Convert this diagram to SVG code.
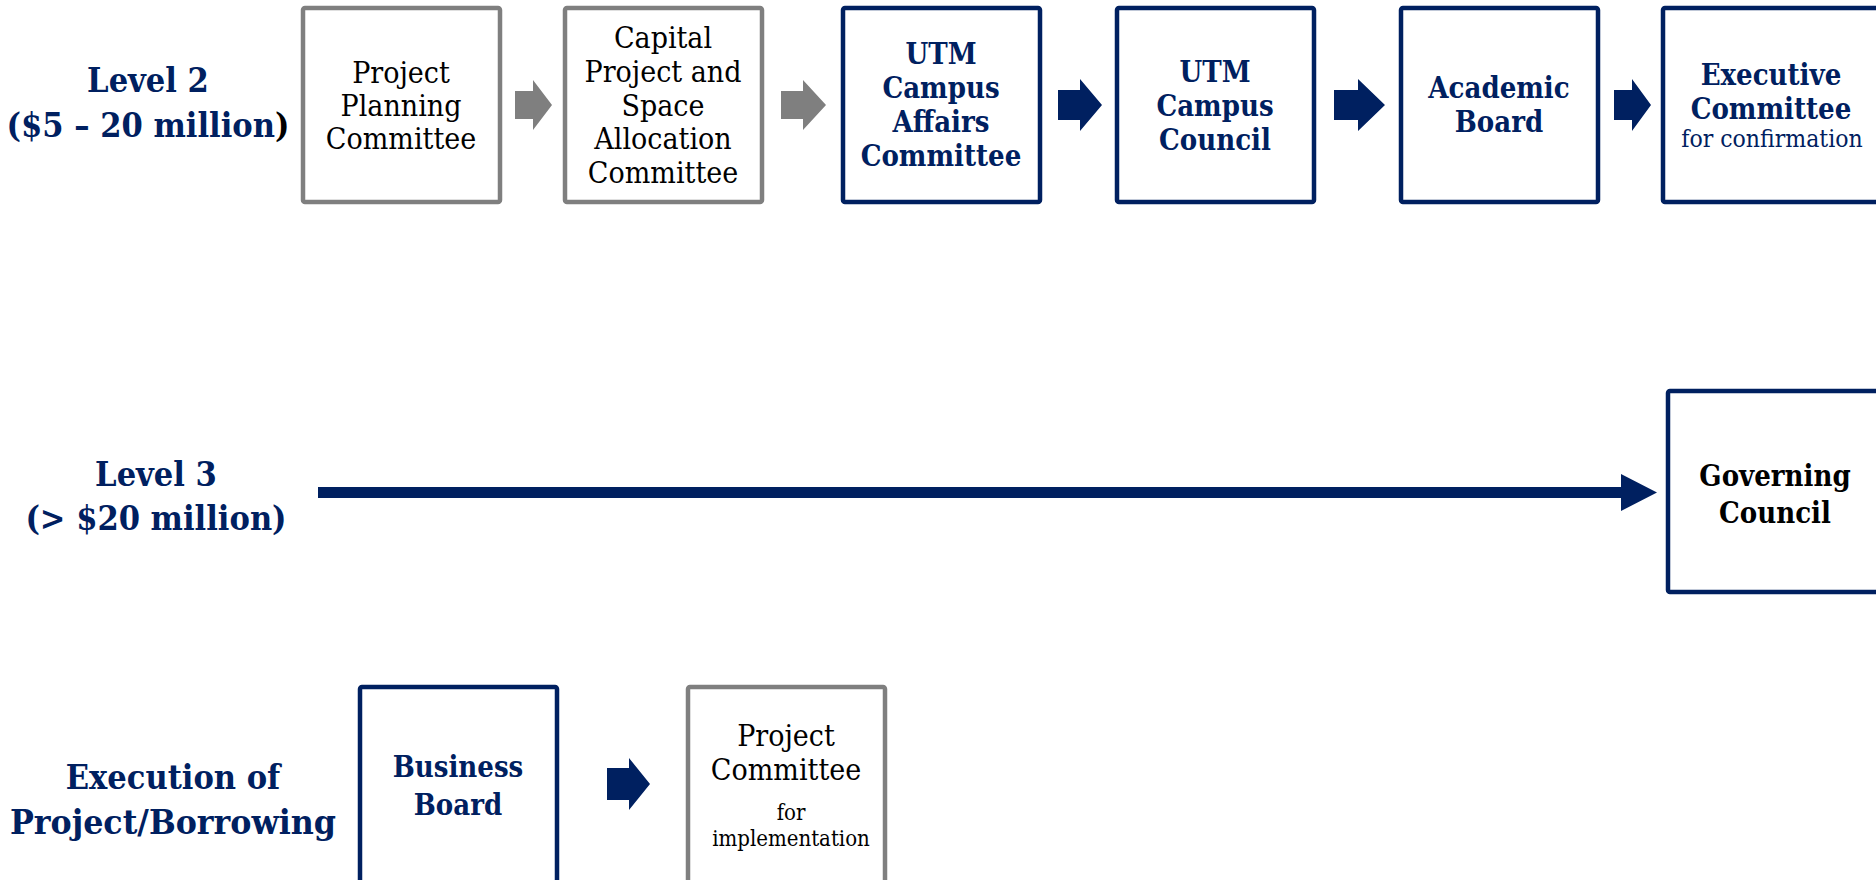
<svg xmlns="http://www.w3.org/2000/svg" width="1876" height="880" viewBox="0 0 1876 880">
<style>
text{font-family:"DejaVu Serif Condensed","DejaVu Serif","Liberation Serif",serif;font-stretch:condensed;text-anchor:middle}
.lbl{font-size:34px;font-weight:bold;fill:#002060}
.reg{font-size:30px;fill:#000}
.bold{font-size:29px;font-weight:bold;fill:#002060}
.small{font-size:22px;fill:#000}
.gbox{fill:#fff;stroke:#7f7f7f;stroke-width:4.5}
.nbox{fill:#fff;stroke:#002060;stroke-width:4.5}
.garr{fill:#7f7f7f}
.narr{fill:#002060}
</style>
<rect width="1876" height="880" fill="#fff"/>
<g id="label-level2">
<text class="lbl" x="148" y="92">Level 2</text>
<text class="lbl" x="148" y="137">($5 – 20 million<tspan fill="#000">)</tspan></text>
</g>
<g id="label-level3">
<text class="lbl" x="156" y="486">Level 3</text>
<text class="lbl" x="156" y="530">(&gt; $20 million)</text>
</g>
<g id="label-execution">
<text class="lbl" x="173" y="789">Execution of</text>
<text class="lbl" x="173" y="834" textLength="326" lengthAdjust="spacingAndGlyphs">Project/Borrowing</text>
</g>
<g id="node-ppc">
<rect class="gbox" x="303" y="8" width="197" height="194" rx="2"/>
<text class="reg" x="401" y="83">Project</text>
<text class="reg" x="401" y="116">Planning</text>
<text class="reg" x="401" y="149">Committee</text>
</g>
<g id="node-cpsac">
<rect class="gbox" x="565" y="8" width="197" height="194" rx="2"/>
<text class="reg" x="663" y="48">Capital</text>
<text class="reg" x="663" y="82">Project and</text>
<text class="reg" x="663" y="116">Space</text>
<text class="reg" x="663" y="149">Allocation</text>
<text class="reg" x="663" y="183">Committee</text>
</g>
<g id="node-utm-cac">
<rect class="nbox" x="843" y="8" width="197" height="194" rx="2"/>
<text class="bold" x="941" y="64">UTM</text>
<text class="bold" x="941" y="98">Campus</text>
<text class="bold" x="941" y="132">Affairs</text>
<text class="bold" x="941" y="166">Committee</text>
</g>
<g id="node-utm-cc">
<rect class="nbox" x="1117" y="8" width="197" height="194" rx="2"/>
<text class="bold" x="1215" y="82">UTM</text>
<text class="bold" x="1215" y="116">Campus</text>
<text class="bold" x="1215" y="150">Council</text>
</g>
<g id="node-academic-board">
<rect class="nbox" x="1401" y="8" width="197" height="194" rx="2"/>
<text class="bold" x="1499" y="98">Academic</text>
<text class="bold" x="1499" y="132">Board</text>
</g>
<g id="node-executive">
<rect class="nbox" x="1663" y="8" width="216" height="194" rx="2"/>
<text class="bold" x="1771" y="85">Executive</text>
<text class="bold" x="1771" y="119">Committee</text>
<text x="1772" y="147" style="font-size:24.5px;fill:#002060">for confirmation</text>
</g>
<g id="node-governing">
<rect class="nbox" x="1668" y="391" width="216" height="201" rx="2"/>
<text class="bold" x="1775" y="486" style="fill:#000">Governing</text>
<text class="bold" x="1775" y="523" style="fill:#000">Council</text>
</g>
<g id="node-business-board">
<rect class="nbox" x="360" y="687" width="197" height="200" rx="2"/>
<text class="bold" x="458" y="777">Business</text>
<text class="bold" x="458" y="815">Board</text>
</g>
<g id="node-project-committee">
<rect class="gbox" x="688" y="687" width="197" height="200" rx="2"/>
<text class="reg" x="786" y="746">Project</text>
<text class="reg" x="786" y="780">Committee</text>
<text class="small" x="791" y="820">for</text>
<text class="small" x="791" y="846">implementation</text>
</g>
<g id="connectors">
<polygon class="garr" points="515,91 533,91 533,80 552,105 533,130 533,119 515,119"/>
<polygon class="garr" points="781,91 803,91 803,80 826,105 803,130 803,119 781,119"/>
<polygon class="narr" points="1058,90 1080,90 1080,79 1102,105 1080,131 1080,120 1058,120"/>
<polygon class="narr" points="1334,90 1358,90 1358,79 1385,105 1358,131 1358,120 1334,120"/>
<polygon class="narr" points="1614,90 1632,90 1632,79 1651,105 1632,131 1632,120 1614,120"/>
<polygon class="narr" points="318,487 1621,487 1621,474 1657,492.5 1621,511 1621,498 318,498"/>
<polygon class="narr" points="607,768 629,768 629,758 650,784 629,810 629,800 607,800"/>
</g>
</svg>
